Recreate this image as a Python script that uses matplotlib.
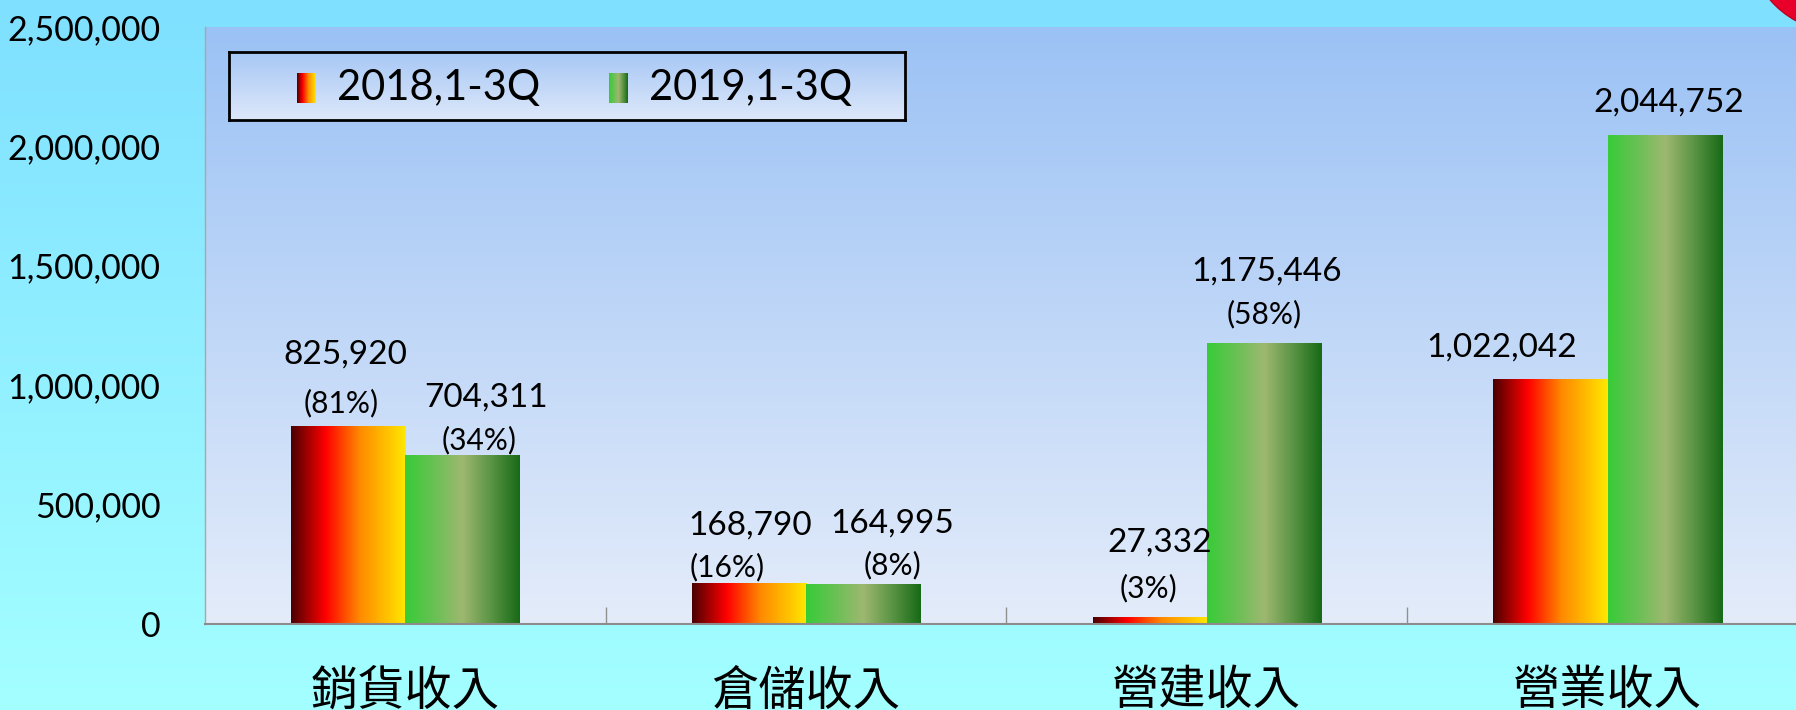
import numpy as np
import matplotlib.pyplot as plt
from matplotlib.colors import LinearSegmentedColormap
from matplotlib.patches import Circle
from matplotlib.ticker import FuncFormatter
from matplotlib.transforms import IdentityTransform

plt.rcParams['font.family'] = ['Lato', 'Noto Sans CJK TC', 'DejaVu Sans']

# data
categories = ['銷貨收入', '倉儲收入', '營建收入', '營業收入']
series = ['2018,1-3Q', '2019,1-3Q']
v2018 = [825920, 168790, 27332, 1022042]
v2019 = [704311, 164995, 1175446, 2044752]
pct2018 = ['(81%)', '(16%)', '(3%)', '']
pct2019 = ['(34%)', '(8%)', '(58%)', '']
yticks = [0, 500000, 1000000, 1500000, 2000000, 2500000]

# hand-placed label offsets (points from bar centre / bar top)
val_off = [[(-2, 52), (1, 42), (7, 54), (-35, 23)],
           [(17, 42), (21, 44), (2, 52), (3, 24)]]
pct_off = [[(-5, 17), (-16, 12), (-1, 21), (0, 0)],
           [(12, 11), (21, 14), (0, 21), (0, 0)]]

cmap18 = LinearSegmentedColormap.from_list(
    'c18', [(0, '#4a0000'), (0.3, '#ff0000'), (0.6, '#ff8a00'), (1, '#ffe800')])
cmap19 = LinearSegmentedColormap.from_list(
    'c19', [(0, '#38cc38'), (0.22, '#62c250'), (0.5, '#9eb870'), (0.75, '#5a9444'), (1, '#176a17')])
cmaps = [cmap18, cmap19]
hgrad = np.linspace(0, 1, 256).reshape(1, -1)
vgrad = np.linspace(0, 1, 256).reshape(-1, 1)

fig = plt.figure(figsize=(17.96, 7.10), dpi=100)

bg = fig.add_axes([0, 0, 1, 1], zorder=-10)
bg.imshow(vgrad, cmap=LinearSegmentedColormap.from_list('bg', ['#7fe0ff', '#a3ffff']),
          aspect='auto', extent=[0, 1, 0, 1])
bg.axis('off')

ax = fig.add_axes([0.1141, 0.1211, 0.8926, 0.841])
ax.patch.set_alpha(0)
ax.imshow(vgrad, cmap=LinearSegmentedColormap.from_list('pa', ['#9bc2f5', '#e4ecfa']),
          aspect='auto', extent=[-0.5, 3.5, 0, 2500000], zorder=0)

x = np.arange(len(categories))
w = 0.285
for k, vals in enumerate([v2018, v2019]):
    bars = ax.bar(x + (k - 0.5) * w, vals, w, color='none', zorder=2)
    pcts = [pct2018, pct2019][k]
    for i, b in enumerate(bars):
        x0 = b.get_x()
        ax.imshow(hgrad, cmap=cmaps[k], aspect='auto', zorder=2,
                  extent=[x0, x0 + b.get_width(), 0, b.get_height()])
        cx = x0 + b.get_width() / 2
        ax.annotate(f'{vals[i]:,}', (cx, vals[i]), xytext=val_off[k][i],
                    textcoords='offset points', ha='center', va='center', fontsize=24)
        if pcts[i]:
            ax.annotate(pcts[i], (cx, vals[i]), xytext=pct_off[k][i],
                        textcoords='offset points', ha='center', va='center', fontsize=21.5)

ax.set_xlim(-0.5, 3.5)
ax.set_ylim(0, 2500000)
ax.set_yticks(yticks)
ax.yaxis.set_major_formatter(FuncFormatter(lambda v, p: f'{int(v):,}'))
ax.tick_params(axis='y', length=0, pad=32, labelsize=24.5)
ax.set_xticks(x)
ax.set_xticklabels(categories, fontsize=34)
ax.set_xticks([0.5, 1.5, 2.5], minor=True)
ax.tick_params(axis='x', which='major', length=0, pad=32)
ax.tick_params(axis='x', which='minor', length=12, direction='in', color='#909090', width=1)
for s in ['top', 'right']:
    ax.spines[s].set_visible(False)
ax.spines['bottom'].set_color('#8c8c8c')
ax.spines['bottom'].set_linewidth(1.5)
ax.spines['left'].set_color('#a8a8a8')
ax.spines['left'].set_linewidth(1)

# legend box
lg = fig.add_axes([0.1275, 0.831, 0.3764, 0.0958], zorder=5)
lg.imshow(vgrad, cmap=LinearSegmentedColormap.from_list('lg', ['#a6c7f5', '#dde8fa']),
          aspect='auto', extent=[0, 1, 0, 1])
lg.set_xticks([])
lg.set_yticks([])
for s in lg.spines.values():
    s.set_linewidth(2)
    s.set_color('black')
for k, name in enumerate(series):
    mx = [0.10, 0.562][k]
    lg.imshow(hgrad, cmap=cmaps[k], aspect='auto', extent=[mx, mx + 0.027, 0.25, 0.69])
    lg.text(mx + 0.06, 0.47, name, fontsize=30, va='center', ha='left')
lg.set_xlim(0, 1)
lg.set_ylim(0, 1)

fig.add_artist(Circle((1840, 770), 92, transform=IdentityTransform(),
                      facecolor='#e8002a', edgecolor='#c00020'))

fig.savefig('out.png', dpi=100)
